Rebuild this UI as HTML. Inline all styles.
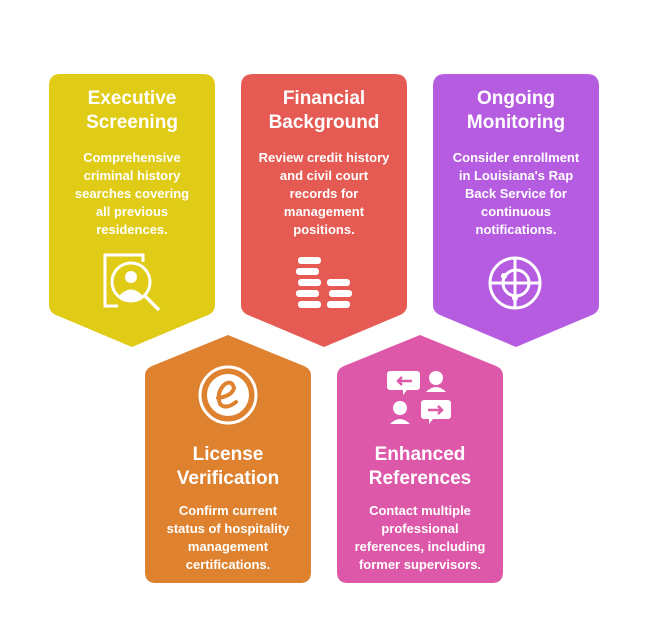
<!DOCTYPE html>
<html><head><meta charset="utf-8"><style>
html,body{margin:0;padding:0;background:#fff;}
svg{display:block;}
text{font-family:"Liberation Sans",sans-serif;fill:#fff;text-anchor:middle;}
.t{font-size:19px;font-weight:bold;}
.b{font-size:13px;font-weight:600;}
</style></head><body>
<svg width="648" height="633" viewBox="0 0 648 633" xmlns="http://www.w3.org/2000/svg">
<path d="M60 74 H203 Q215 74 215 86 V305 Q215 312 208 315 L132 347 L56 315 Q49 312 49 305 V86 Q49 74 60 74Z" fill="#E0CB16"/>
<path d="M253 74 H395 Q407 74 407 86 V305 Q407 312 400 315 L324 347 L248 315 Q241 312 241 305 V86 Q241 74 253 74Z" fill="#E55A53"/>
<path d="M445 74 H587 Q599 74 599 86 V305 Q599 312 592 315 L516 347 L440 315 Q433 312 433 305 V86 Q433 74 445 74Z" fill="#B65CE0"/>
<path d="M228 335 L304 366 Q311 369 311 376 V572 Q311 583 300 583 H156 Q145 583 145 572 V376 Q145 369 152 366Z" fill="#DE822F"/>
<path d="M420 335 L496 366 Q503 369 503 376 V572 Q503 583 492 583 H348 Q337 583 337 572 V376 Q337 369 344 366Z" fill="#DD58A8"/>

<text class="t" x="132" y="104">Executive</text>
<text class="t" x="132" y="128">Screening</text>
<text class="b" x="132" y="162">Comprehensive</text>
<text class="b" x="132" y="180">criminal history</text>
<text class="b" x="132" y="198">searches covering</text>
<text class="b" x="132" y="216">all previous</text>
<text class="b" x="132" y="234">residences.</text>

<text class="t" x="324" y="104">Financial</text>
<text class="t" x="324" y="128">Background</text>
<text class="b" x="324" y="162">Review credit history</text>
<text class="b" x="324" y="180">and civil court</text>
<text class="b" x="324" y="198">records for</text>
<text class="b" x="324" y="216">management</text>
<text class="b" x="324" y="234">positions.</text>

<text class="t" x="516" y="104">Ongoing</text>
<text class="t" x="516" y="128">Monitoring</text>
<text class="b" x="516" y="162">Consider enrollment</text>
<text class="b" x="516" y="180">in Louisiana's Rap</text>
<text class="b" x="516" y="198">Back Service for</text>
<text class="b" x="516" y="216">continuous</text>
<text class="b" x="516" y="234">notifications.</text>

<text class="t" x="228" y="460">License</text>
<text class="t" x="228" y="484">Verification</text>
<text class="b" x="228" y="515">Confirm current</text>
<text class="b" x="228" y="533">status of hospitality</text>
<text class="b" x="228" y="551">management</text>
<text class="b" x="228" y="569">certifications.</text>

<text class="t" x="420" y="460">Enhanced</text>
<text class="t" x="420" y="484">References</text>
<text class="b" x="420" y="515">Contact multiple</text>
<text class="b" x="420" y="533">professional</text>
<text class="b" x="420" y="551">references, including</text>
<text class="b" x="420" y="569">former supervisors.</text>

<g fill="none" stroke="#fff" stroke-width="3">
<path d="M118 306 H105 V255 H143 V262"/>
<circle cx="131" cy="282" r="19"/>
<line x1="145" y1="296" x2="159" y2="310" stroke-width="3.5"/>
<circle cx="515" cy="283" r="25"/>
<line x1="490" y1="283" x2="541" y2="283"/>
<line x1="515" y1="258" x2="515" y2="308"/>
<circle cx="516" cy="283" r="13"/>
<circle cx="228" cy="395" r="28"/>
</g>
<g fill="#fff">
<circle cx="131" cy="277" r="6"/>
<path d="M119 296 Q131 283 143 296 Q131 304 119 296Z"/>
<rect x="298" y="257" width="23" height="7" rx="3"/>
<rect x="296" y="268" width="23" height="7" rx="3"/>
<rect x="298" y="279" width="23" height="7" rx="3"/>
<rect x="296" y="290" width="23" height="7" rx="3"/>
<rect x="298" y="301" width="23" height="7" rx="3"/>
<rect x="327" y="279" width="23" height="7" rx="3"/>
<rect x="329" y="290" width="23" height="7" rx="3"/>
<rect x="327" y="301" width="23" height="7" rx="3"/>
<circle cx="504" cy="276" r="3"/><circle cx="515" cy="298" r="3"/>
<circle cx="228" cy="395" r="21"/>
<path d="M390 371 h27 a3 3 0 0 1 3 3 v13 a3 3 0 0 1 -3 3 h-10 l-4 5 v-5 h-13 a3 3 0 0 1 -3 -3 v-13 a3 3 0 0 1 3 -3z"/>
<circle cx="436" cy="378" r="7"/><path d="M426 392 q10 -10 20 0z"/>
<path d="M424 400 h24 a3 3 0 0 1 3 3 v13 a3 3 0 0 1 -3 3 h-15 l-4 5 v-5 h-5 a3 3 0 0 1 -3 -3 v-13 a3 3 0 0 1 3 -3z"/>
<circle cx="400" cy="408" r="7"/><path d="M390 424 q10 -10 20 0z"/>
</g>
<g fill="none" stroke="#DE822F" stroke-width="4" stroke-linecap="round">
<path d="M218 398 Q232 396 234 388 Q232 380 225 384 Q216 392 220 404 Q226 410 236 402"/>
</g>
<g fill="none" stroke="#DD58A8" stroke-width="2.5">
<path d="M412 381 h-14 m4 -4 l-4 4 l4 4"/>
<path d="M428 410 h14 m-4 -4 l4 4 l-4 4"/>
</g>
</svg>
</body></html>
